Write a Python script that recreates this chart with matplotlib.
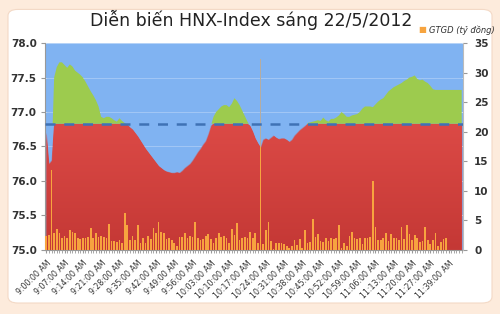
"""Diễn biến HNX-Index sáng 22/5/2012 – index area vs reference + trading value bars."""
import matplotlib
matplotlib.use("Agg")
import matplotlib.pyplot as plt
import numpy as np
from matplotlib.patches import FancyBboxPatch

# ---------------------------------------------------------------------------
# data
# ---------------------------------------------------------------------------
REF_LEVEL = 76.83  # previous close

# category minutes: 9:00 .. 11:29, then 11:35 .. 11:44 (lunch gap skipped)
minutes = list(range(9 * 60, 11 * 60 + 30)) + list(range(11 * 60 + 35, 11 * 60 + 45))
time_labels = [f"{m // 60}:{m % 60:02d}:00 AM" for m in minutes]

hnx_index = [
    76.70, 76.25, 76.30, 77.50, 77.65, 77.72, 77.72, 77.68, 77.64, 77.69,
    77.66, 77.60, 77.57, 77.54, 77.50, 77.44, 77.37, 77.30, 77.24, 77.17,
    77.08, 76.93, 76.91, 76.93, 76.93, 76.91, 76.88, 76.86, 76.91, 76.87,
    76.84, 76.82, 76.78, 76.75, 76.70, 76.65, 76.59, 76.53, 76.47, 76.42,
    76.37, 76.32, 76.27, 76.22, 76.19, 76.16, 76.14, 76.13, 76.12, 76.12,
    76.13, 76.12, 76.15, 76.19, 76.22, 76.25, 76.30, 76.36, 76.42, 76.47,
    76.53, 76.58, 76.68, 76.80, 76.93, 77.00, 77.04, 77.08, 77.10, 77.10,
    77.07, 77.12, 77.20, 77.16, 77.10, 77.02, 76.94, 76.86, 76.80, 76.72,
    76.62, 76.55, 76.49, 76.60, 76.62, 76.60, 76.63, 76.66, 76.63, 76.61,
    76.62, 76.62, 76.60, 76.57, 76.60, 76.66, 76.70, 76.74, 76.77, 76.80,
    76.84, 76.85, 76.86, 76.87, 76.88, 76.87, 76.92, 76.88, 76.86, 76.90,
    76.90, 76.92, 76.95, 77.00, 76.97, 76.93, 76.93, 76.95, 76.96, 76.97,
    77.00, 77.05, 77.08, 77.08, 77.08, 77.07, 77.11, 77.15, 77.18, 77.20,
    77.25, 77.30, 77.33, 77.36, 77.38, 77.40, 77.42, 77.45, 77.47, 77.50,
    77.51, 77.53, 77.48, 77.46, 77.47, 77.44, 77.42, 77.38, 77.33, 77.32,
    77.32, 77.32, 77.32, 77.32, 77.32, 77.32, 77.32, 77.32, 77.32, 77.32,
]

# GTGD (tỷ đồng) per minute
gtgd = [
    2.4, 2.5, 13.5, 2.9, 3.5, 2.9, 2.0, 2.4, 2.0, 3.3,
    3.1, 2.9, 2.0, 1.8, 2.0, 2.1, 2.2, 3.7, 2.0, 2.8,
    2.2, 2.4, 2.2, 2.0, 4.4, 1.5, 1.5, 1.4, 1.6, 1.2,
    6.3, 4.2, 1.6, 2.4, 1.6, 4.2, 1.1, 2.0, 1.2, 2.4,
    1.8, 3.7, 2.9, 4.7, 3.1, 2.9, 1.8, 2.0, 1.6, 1.2,
    0.7, 2.2, 2.2, 2.8, 2.0, 2.4, 2.2, 4.7, 2.0, 1.6,
    1.8, 2.4, 2.7, 1.8, 1.2, 2.0, 2.8, 2.2, 2.4, 2.0,
    1.2, 3.5, 2.5, 4.6, 1.6, 2.0, 2.2, 2.0, 3.1, 2.0,
    2.9, 1.2, 32.3, 1.0, 3.3, 4.8, 1.5, 0.1, 1.1, 1.1,
    1.1, 1.0, 0.7, 0.4, 0.7, 1.6, 0.8, 1.8, 0.4, 3.4,
    1.1, 1.4, 5.3, 2.2, 2.7, 1.5, 1.4, 2.1, 1.5, 2.0,
    1.8, 2.0, 4.2, 0.4, 1.2, 0.7, 2.4, 3.1, 2.0, 1.8,
    2.0, 1.0, 2.0, 2.0, 2.2, 11.6, 3.9, 1.6, 1.6, 2.0,
    2.8, 1.5, 2.7, 2.0, 2.0, 1.6, 3.8, 1.8, 4.2, 2.7,
    1.6, 2.5, 2.0, 1.4, 1.5, 3.9, 1.6, 1.0, 1.6, 2.8,
    0.7, 1.4, 1.8, 2.0,
]

# ---------------------------------------------------------------------------
BLUE = "#80b3f2"
RED_TOP = "#dc4a46"
RED_BOT = "#c43835"
GREEN = "#9dcb4e"
ORANGE = "#f7a43f"
DASH = "#3f72b5"
TXT = "#333333"

x = np.arange(len(minutes))
idx = np.array(hnx_index)
xb = np.arange(len(gtgd))

fig = plt.figure(figsize=(5.0, 3.14), dpi=100, facecolor="#fdebdc")
panel = FancyBboxPatch((0.016, 0.035), 0.968, 0.935, boxstyle="round,pad=0,rounding_size=0.02",
                       transform=fig.transFigure, facecolor="white", edgecolor="#f3d9c6", lw=0.8,
                       zorder=-10)
fig.patches.append(panel)

rect = [0.090, 0.204, 0.836, 0.659]
ax = fig.add_axes(rect)
ax.set_facecolor(BLUE)
ax.set_xlim(-0.5, len(minutes) - 0.5)
ax.set_ylim(75.0, 78.0)
ax.set_axisbelow(True)
ax.grid(axis="y", color="white", lw=0.6, alpha=0.7)

# red part: up to min(index, reference), with vertical gradient
low = np.minimum(idx, REF_LEVEL)
red = ax.fill_between(x, 75.0, low, color=RED_TOP, lw=0, zorder=1)
grad = np.linspace(0, 1, 256).reshape(-1, 1)
cmap = matplotlib.colors.LinearSegmentedColormap.from_list("r", [RED_BOT, RED_TOP])
im = ax.imshow(grad, extent=[-0.5, len(minutes) - 0.5, 75.0, REF_LEVEL], origin="lower",
               aspect="auto", cmap=cmap, zorder=1.1)
im.set_clip_path(red.get_paths()[0], transform=ax.transData)

# x ticks: one small tick per minute, a label every 7th category
ax.set_xticks(x, minor=True)
ax.set_xticks(x[::7])
ax.set_xticklabels(time_labels[::7], rotation=45, ha="right", rotation_mode="anchor",
                   fontsize=5.7, color=TXT)
ax.tick_params(axis="x", which="both", length=2.5, color="#999999", pad=4)

# trading value bars (right axis)
ax2 = ax.twinx()
ax2.set_ylim(0, 35)
ax2.patch.set_visible(False)
ax2.bar(xb, gtgd, width=0.65, color=ORANGE, lw=0, zorder=2)

# overlay: blue above the index, green above reference, reference dashed line
ax3 = ax.twinx()
ax3.set_ylim(75.0, 78.0)
ax3.patch.set_visible(False)
ax3.fill_between(x, idx, 78.0, color=BLUE, alpha=0.55, lw=0)
ax3.fill_between(x, REF_LEVEL, idx, where=idx >= REF_LEVEL, interpolate=True,
                 color=GREEN, lw=0)
ax3.axhline(REF_LEVEL, color=DASH, lw=1.8, dashes=(4, 3.5))
ax3.set_yticks([])
for s in ax3.spines.values():
    s.set_visible(False)
ax.set_xlim(-0.5, len(minutes) - 0.5)

# axes styling
for a in (ax, ax2):
    a.spines["top"].set_visible(False)
ax.spines["left"].set_color("#999999")
ax.spines["bottom"].set_color("#999999")
ax.spines["right"].set_visible(False)
ax2.spines["right"].set_color("#bbbbbb")
ax2.spines["left"].set_visible(False)
ax2.spines["bottom"].set_visible(False)

ax.set_yticks(np.arange(75.0, 78.01, 0.5))
ax.set_yticklabels([f"{v:.1f}" for v in np.arange(75.0, 78.01, 0.5)],
                   fontsize=7.5, fontweight="bold", color=TXT)
ax.tick_params(axis="y", length=3, color="#999999", pad=3)
ax2.set_yticks(np.arange(0, 36, 5))
ax2.tick_params(axis="y", labelsize=7.5, length=3, color="#999999", labelcolor=TXT, pad=5)
for t in ax2.get_yticklabels():
    t.set_fontweight("bold")

fig.text(0.502, 0.937, "Diễn biến HNX-Index sáng 22/5/2012", ha="center", va="center",
         fontsize=12.5, color="#222222")
fig.text(0.845, 0.905, "■", ha="center", va="center", fontsize=6, color=ORANGE)
fig.text(0.858, 0.905, "GTGD (tỷ đồng)", ha="left", va="center", fontsize=6,
         style="italic", color=TXT)

fig.savefig("out.png", dpi=100, facecolor=fig.get_facecolor())
